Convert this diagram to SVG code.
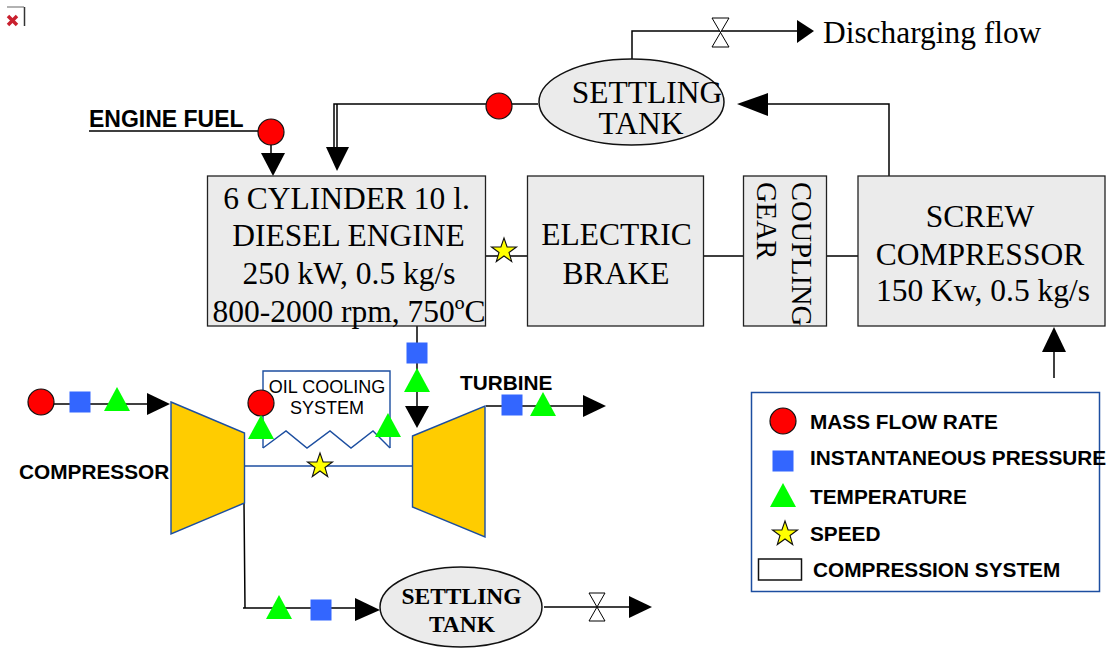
<svg xmlns="http://www.w3.org/2000/svg" width="1115" height="649" viewBox="0 0 1115 649">
<style>
.box{fill:#ebebeb;stroke:#222;stroke-width:1.3}
.ln{fill:none;stroke:#000;stroke-width:1.5}
.bl{fill:none;stroke:#1c4ea0;stroke-width:1.4}
.cf{fill:#fc0;stroke:#1c4ea0;stroke-width:1.4}
.ah{fill:#000}
.s{font-family:"Liberation Serif",serif;font-size:31.500px;fill:#000;text-anchor:middle}
.h{font-family:"Liberation Sans",sans-serif;font-weight:700;font-size:20.800px;fill:#000}
.v{fill:#fff;stroke:#000;stroke-width:1}
</style>
<defs>
<circle id="mf" r="13" fill="#f00" stroke="#111" stroke-width="1.2"/>
<rect id="ip" x="-10.500" y="-10.500" width="21" height="21" fill="#36f"/>
<polygon id="tp" points="0,-13 13,11 -13,11" fill="#0f0"/>
<polygon id="sp" points="0,-13 3.100,-4 12.500,-4 5,1.500 7.700,10.500 0,5 -7.700,10.500 -5,1.500 -12.500,-4 -3.100,-4" fill="#ff0" stroke="#111" stroke-width="1.1"/>
</defs>
<g id="broken-icon"><path d="M7 7H24" fill="none" stroke="#999" stroke-width="1.500"/><path d="M24.500 7V26" fill="none" stroke="#333" stroke-width="1.500"/><path d="M8 16L17 25M17 16L8 25" stroke="#c9202e" stroke-width="3.500"/></g>
<g id="connectors">
<path class="ln" d="M632 60V31H800"/>
<path class="ln" d="M538 104H334V148M337 104V148"/>
<path class="ln" d="M889 176V104H765"/>
<path class="ln" d="M89 131H260M271 144V156"/>
<path class="ln" d="M486 256H527M704 256H743M827 256H858"/>
<path class="ln" d="M1054 378V350"/>
<path class="ln" d="M417 326V408"/>
<path class="ln" d="M28 404H150"/>
<path class="ln" d="M486 406H585"/>
<path class="ln" d="M244 503L245 608H243M243 608H355"/>
<path class="ln" d="M544 607H630"/>
<path class="bl" d="M245 466H412"/>
<path class="bl" d="M263 448V371H390V448"/>
<path class="bl" d="M263 448L286 431L307 448L330 431L351 448L373 431L390 448"/>
<polygon class="ah" points="814,31 797,20 797,43"/>
<polygon class="ah" points="326,147 349,147 337,171"/>
<polygon class="ah" points="737,104 768,93 768,116"/>
<polygon class="ah" points="261,153 285,153 273,176"/>
<polygon class="ah" points="1042,352 1066,352 1054,327"/>
<polygon class="ah" points="405,406 429,406 417,428"/>
<polygon class="ah" points="170,404 147,393 147,415"/>
<polygon class="ah" points="606,406 583,395 583,417"/>
<polygon class="ah" points="380,610 355,598 355,621"/>
<polygon class="ah" points="652,607 629,596 629,618"/>
<polygon class="v" points="712,18 729,18 712,47 729,47"/>
<polygon class="v" points="589,593 605,593 589,621 605,621"/>
</g>
<g id="engine"><rect class="box" x="207.500" y="176" width="278" height="150"/>
<text class="s" x="346.500" y="209">6 CYLINDER 10 l.</text><text class="s" x="348.500" y="246">DIESEL ENGINE</text><text class="s" x="349" y="284">250 kW, 0.5 kg/s</text><text class="s" x="349" y="322">800-2000 rpm, 750ºC</text></g>
<g id="brake"><rect class="box" x="527.500" y="176" width="176" height="150"/><text class="s" x="616.500" y="245">ELECTRIC</text><text class="s" x="616" y="284">BRAKE</text></g>
<g id="coupling"><rect class="box" x="743.500" y="176" width="83" height="150"/>
<text font-family="Liberation Serif, serif" font-size="28.500" transform="translate(792,182) rotate(90)">COUPLING</text>
<text font-family="Liberation Serif, serif" font-size="28.500" transform="translate(757,182) rotate(90)">GEAR</text></g>
<g id="screw"><rect class="box" x="858" y="176" width="247" height="150"/><text class="s" x="980" y="227">SCREW</text><text class="s" x="980" y="265">COMPRESSOR</text><text class="s" x="983" y="301">150 Kw, 0.5 kg/s</text></g>
<g id="settling-top"><ellipse cx="631.500" cy="102" rx="92.500" ry="43" fill="#ebebeb" stroke="#111" stroke-width="1.500"/><text class="s" x="647" y="103">SETTLING</text><text class="s" x="641" y="134">TANK</text></g>
<g id="discharging"><text font-family="Liberation Serif, serif" font-size="31.400" x="823" y="43">Discharging flow</text></g>
<g id="fuel"><text class="h" style="font-size:23px" x="89" y="127">ENGINE FUEL</text></g>
<g id="compressor"><polygon class="cf" points="171,402 244.500,433 244.500,503 171,534"/><text class="h" x="19" y="479">COMPRESSOR</text></g>
<g id="turbine"><polygon class="cf" points="412.500,436 485,406 485,537 412.500,507"/><text class="h" x="460" y="390">TURBINE</text></g>
<g id="oil"><text font-family="Liberation Sans, sans-serif" font-size="18" text-anchor="middle" x="327" y="393">OIL COOLING</text><text font-family="Liberation Sans, sans-serif" font-size="18" text-anchor="middle" x="327" y="414">SYSTEM</text></g>
<g id="settling-bottom"><ellipse cx="461" cy="607" rx="81" ry="40" fill="#ebebeb" stroke="#111" stroke-width="1.500"/><text font-family="Liberation Serif, serif" font-weight="700" font-size="23.500" text-anchor="middle" x="461.500" y="604">SETTLING</text><text font-family="Liberation Serif, serif" font-weight="700" font-size="23.500" text-anchor="middle" x="462" y="632">TANK</text></g>
<g id="sensors">
<use href="#mf" x="271" y="132"/><use href="#mf" x="499" y="106"/><use href="#sp" x="504" y="251"/>
<use href="#ip" x="417" y="353"/><use href="#tp" x="417" y="381"/>
<use href="#mf" x="41" y="402"/><use href="#ip" x="80" y="402"/><use href="#tp" x="117" y="400"/>
<use href="#mf" x="261" y="403"/><use href="#tp" x="261" y="428"/><use href="#tp" x="388" y="426"/><use href="#sp" x="320" y="466"/>
<use href="#ip" x="512" y="405"/><use href="#tp" x="543" y="405"/>
<use href="#tp" x="279" y="608"/><use href="#ip" x="321" y="610"/>
</g>
<g id="legend"><rect x="751.500" y="392.500" width="348" height="199" fill="none" stroke="#1c4ea0" stroke-width="1.500"/>
<use href="#mf" x="783" y="421"/><text class="h" x="810" y="429">MASS FLOW RATE</text>
<use href="#ip" x="783" y="461"/><text class="h" x="810" y="465">INSTANTANEOUS PRESSURE</text>
<use href="#tp" x="783" y="496"/><text class="h" x="810" y="504">TEMPERATURE</text>
<use href="#sp" x="785" y="534"/><text class="h" x="810" y="541">SPEED</text>
<rect x="758.500" y="559" width="43" height="21" fill="none" stroke="#111" stroke-width="1.500"/><text class="h" x="813" y="577">COMPRESSION SYSTEM</text></g>
</svg>
